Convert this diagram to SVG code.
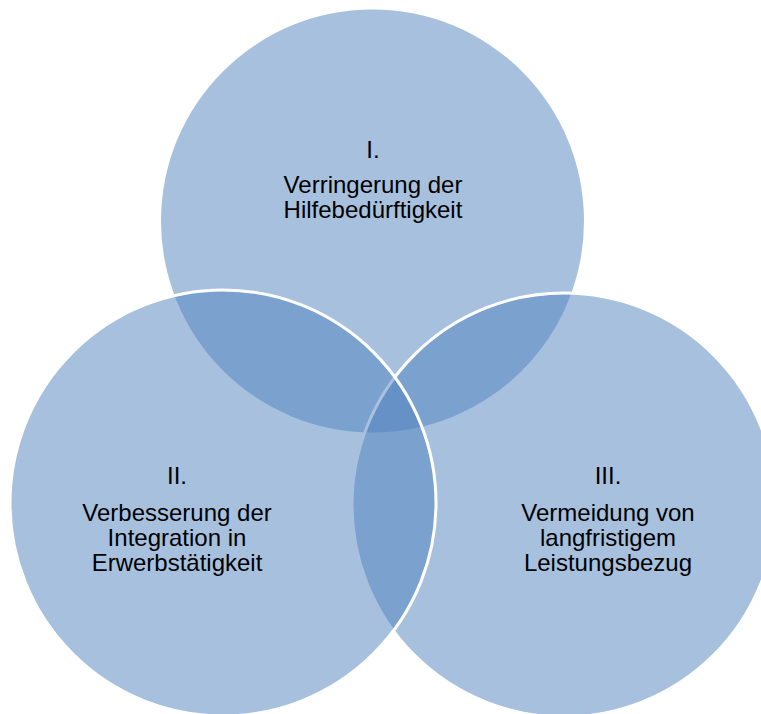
<svg xmlns="http://www.w3.org/2000/svg" width="761" height="714" viewBox="0 0 761 714">
<style>
.c{fill:#4f81bd;fill-opacity:0.5}
.s{stroke:#ffffff;stroke-width:3}
.t{font-family:"Liberation Sans",Arial,sans-serif;font-size:24px;fill:#000000;text-anchor:middle}
</style>
<rect width="761" height="714" fill="#ffffff"/>
<g id="circle-top">
<circle class="c" cx="372.5" cy="221" r="211.5"/>
</g>
<g id="circle-right">
<circle class="c s" cx="564" cy="505" r="212"/>
</g>
<g id="circle-left">
<circle class="c s" cx="223" cy="503" r="213"/>
</g>
<g id="connectors"></g>
<g id="label-top">
<text class="t" x="373" y="158">I.</text>
<text class="t" x="373" y="193">Verringerung der</text>
<text class="t" x="373" y="218">Hilfebedürftigkeit</text>
</g>
<g id="label-left">
<text class="t" x="177" y="484">II.</text>
<text class="t" x="177" y="521">Verbesserung der</text>
<text class="t" x="177" y="546">Integration in</text>
<text class="t" x="177" y="571">Erwerbstätigkeit</text>
</g>
<g id="label-right">
<text class="t" x="608" y="484">III.</text>
<text class="t" x="608" y="521">Vermeidung von</text>
<text class="t" x="608" y="546">langfristigem</text>
<text class="t" x="608" y="571">Leistungsbezug</text>
</g>
</svg>
